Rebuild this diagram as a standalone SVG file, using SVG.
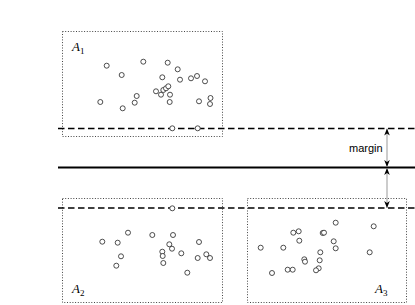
<svg xmlns="http://www.w3.org/2000/svg" width="415" height="305" viewBox="0 0 415 305">
<defs>
<style>
.box{fill:none;stroke:#444;stroke-width:1;stroke-dasharray:1,1.7}
.pt{fill:#fff;stroke:#222;stroke-width:0.8}
.dash{stroke:#000;stroke-width:1.6;stroke-dasharray:6.5,3.5;fill:none}
.solid{stroke:#000;stroke-width:2;fill:none}
.lbl{font-family:"Liberation Serif",serif;font-style:italic;font-size:13px;fill:#000}
.sub{font-family:"Liberation Serif",serif;font-style:normal;font-size:9px;fill:#000}
.mtxt{font-family:"Liberation Sans",Arial,sans-serif;font-size:11px;fill:#000}
.arr{stroke:#999;stroke-width:1;fill:none}
</style>
<marker id="ah" viewBox="0 0 10 10" refX="10" refY="5" markerWidth="7" markerHeight="7" orient="auto-start-reverse" markerUnits="userSpaceOnUse">
<path d="M0,1 L10,5 L0,9 L3,5 Z" fill="#000"/>
</marker>
</defs>
<g id="A1">
<rect class="box" x="62.5" y="31.5" width="160" height="105"/>
<text class="lbl" x="72" y="51">A<tspan class="sub" dy="3">1</tspan></text>
<circle class="pt" cx="106.7" cy="65.7" r="2.5"/>
<circle class="pt" cx="121.7" cy="75" r="2.5"/>
<circle class="pt" cx="143.3" cy="61.7" r="2.5"/>
<circle class="pt" cx="167.7" cy="62.7" r="2.5"/>
<circle class="pt" cx="177.7" cy="69.3" r="2.5"/>
<circle class="pt" cx="162.3" cy="77.3" r="2.5"/>
<circle class="pt" cx="180" cy="79.7" r="2.5"/>
<circle class="pt" cx="191" cy="78.3" r="2.5"/>
<circle class="pt" cx="197" cy="76" r="2.5"/>
<circle class="pt" cx="205" cy="81.3" r="2.5"/>
<circle class="pt" cx="156" cy="91.3" r="2.5"/>
<circle class="pt" cx="161" cy="94.7" r="2.5"/>
<circle class="pt" cx="163.3" cy="90" r="2.5"/>
<circle class="pt" cx="166" cy="88.3" r="2.5"/>
<circle class="pt" cx="168.3" cy="86.3" r="2.5"/>
<circle class="pt" cx="170" cy="94.7" r="2.5"/>
<circle class="pt" cx="169.7" cy="102" r="2.5"/>
<circle class="pt" cx="136.7" cy="96" r="2.5"/>
<circle class="pt" cx="134.7" cy="102.7" r="2.5"/>
<circle class="pt" cx="100.3" cy="102" r="2.5"/>
<circle class="pt" cx="122.7" cy="108.3" r="2.5"/>
<circle class="pt" cx="199" cy="101.3" r="2.5"/>
<circle class="pt" cx="210.5" cy="98" r="2.5"/>
<circle class="pt" cx="210" cy="104" r="2.5"/>
</g>
<g id="A2">
<rect class="box" x="62.5" y="198.5" width="160" height="104"/>
<text class="lbl" x="72" y="293">A<tspan class="sub" dy="3">2</tspan></text>
<circle class="pt" cx="102.3" cy="241.7" r="2.5"/>
<circle class="pt" cx="117.7" cy="242.7" r="2.5"/>
<circle class="pt" cx="128" cy="232.7" r="2.5"/>
<circle class="pt" cx="152.3" cy="235" r="2.5"/>
<circle class="pt" cx="173" cy="235" r="2.5"/>
<circle class="pt" cx="169.3" cy="244.3" r="2.5"/>
<circle class="pt" cx="172" cy="248.7" r="2.5"/>
<circle class="pt" cx="199" cy="242" r="2.5"/>
<circle class="pt" cx="162.3" cy="251.7" r="2.5"/>
<circle class="pt" cx="162.7" cy="256" r="2.5"/>
<circle class="pt" cx="163.3" cy="263" r="2.5"/>
<circle class="pt" cx="181.3" cy="253.3" r="2.5"/>
<circle class="pt" cx="121" cy="256.3" r="2.5"/>
<circle class="pt" cx="116.3" cy="265.7" r="2.5"/>
<circle class="pt" cx="197.7" cy="258" r="2.5"/>
<circle class="pt" cx="206.3" cy="254.3" r="2.5"/>
<circle class="pt" cx="210" cy="258" r="2.5"/>
<circle class="pt" cx="187.3" cy="272.7" r="2.5"/>
</g>
<g id="A3">
<rect class="box" x="247.5" y="198.5" width="159" height="104"/>
<text class="lbl" x="375" y="293">A<tspan class="sub" dy="3">3</tspan></text>
<circle class="pt" cx="260.7" cy="247.7" r="2.5"/>
<circle class="pt" cx="272" cy="273" r="2.5"/>
<circle class="pt" cx="283.3" cy="247.7" r="2.5"/>
<circle class="pt" cx="287.7" cy="269.7" r="2.5"/>
<circle class="pt" cx="292.7" cy="269.7" r="2.5"/>
<circle class="pt" cx="293.3" cy="232.7" r="2.5"/>
<circle class="pt" cx="298.7" cy="231.3" r="2.5"/>
<circle class="pt" cx="299.3" cy="240.7" r="2.5"/>
<circle class="pt" cx="304.3" cy="259.3" r="2.5"/>
<circle class="pt" cx="305" cy="261.7" r="2.5"/>
<circle class="pt" cx="322.7" cy="233" r="2.5"/>
<circle class="pt" cx="324" cy="232.7" r="2.5"/>
<circle class="pt" cx="320.3" cy="252.3" r="2.5"/>
<circle class="pt" cx="319.7" cy="260.3" r="2.5"/>
<circle class="pt" cx="318.7" cy="268.3" r="2.5"/>
<circle class="pt" cx="316" cy="270.3" r="2.5"/>
<circle class="pt" cx="335.7" cy="222.7" r="2.5"/>
<circle class="pt" cx="333.7" cy="241.3" r="2.5"/>
<circle class="pt" cx="335.7" cy="248.3" r="2.5"/>
<circle class="pt" cx="373.7" cy="226.3" r="2.5"/>
<circle class="pt" cx="369.7" cy="252.3" r="2.5"/>
</g>
<g id="connectors">
<line class="dash" x1="58" y1="128.5" x2="415" y2="128.5"/>
<line class="solid" x1="58" y1="167.5" x2="415" y2="167.5"/>
<line class="dash" x1="58" y1="208" x2="415" y2="208"/>
<line class="arr" x1="387" y1="128.5" x2="387" y2="167" marker-start="url(#ah)" marker-end="url(#ah)"/>
<line class="arr" x1="387" y1="168" x2="387" y2="208" marker-start="url(#ah)" marker-end="url(#ah)"/>
<text class="mtxt" x="349" y="152">margin</text>
</g>
<g id="boundary-points">
<circle class="pt" cx="172.3" cy="128.3" r="2.5"/>
<circle class="pt" cx="197.7" cy="128.3" r="2.5"/>
<circle class="pt" cx="172.3" cy="208.3" r="2.5"/>
</g>
</svg>
